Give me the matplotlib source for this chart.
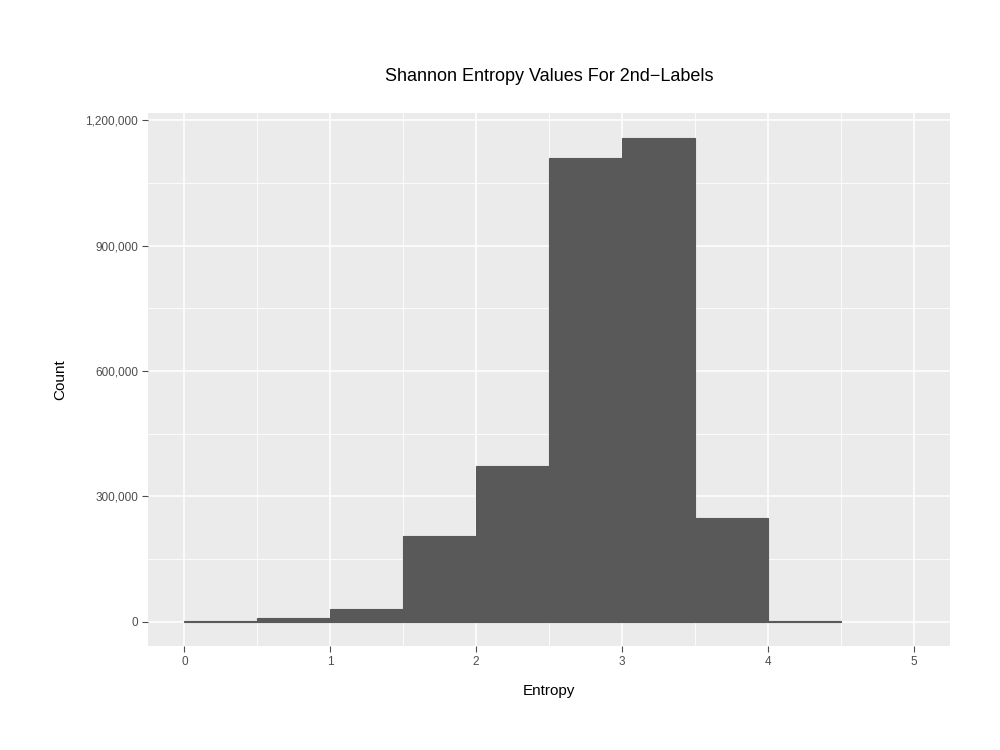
import numpy as np
import matplotlib.pyplot as plt
from matplotlib.ticker import FuncFormatter, MultipleLocator

plt.rcParams['font.family'] = ['Liberation Sans', 'DejaVu Sans']

# histogram bins (entropy, width 0.5) and counts
bin_edges = [0.0, 0.5, 1.0, 1.5, 2.0, 2.5, 3.0, 3.5, 4.0, 4.5]
counts = [1500, 9500, 31000, 206000, 374000, 1109000, 1158000, 248000, 1500]
x_ticks = [0, 1, 2, 3, 4, 5]
y_ticks = [0, 300000, 600000, 900000, 1200000]

fig = plt.figure(figsize=(10, 7.5), dpi=100)
ax = fig.add_axes([0.148, 0.1387, 0.802, 0.7107])
ax.set_facecolor('#EBEBEB')

lefts = np.array(bin_edges[:-1])
widths = np.diff(bin_edges)
ax.bar(lefts, counts, width=widths, align='edge', color='#595959',
       edgecolor='#595959', linewidth=0.8, zorder=3)

ax.set_xlim(-0.25, 5.25)
ax.set_ylim(-58000, 1218000)
ax.set_xticks(x_ticks)
ax.set_yticks(y_ticks)
ax.xaxis.set_minor_locator(MultipleLocator(0.5))
ax.yaxis.set_minor_locator(MultipleLocator(150000))
ax.yaxis.set_major_formatter(FuncFormatter(lambda v, p: f'{int(v):,}'))

ax.grid(which='major', color='white', linewidth=1.1, zorder=0)
ax.grid(which='minor', color='white', linewidth=0.6, zorder=0)
ax.set_axisbelow(True)
for s in ax.spines.values():
    s.set_visible(False)

ax.tick_params(which='major', length=4, color='#4D4D4D', labelcolor='#4D4D4D',
               labelsize=8.5, width=0.8, pad=3)
ax.tick_params(which='minor', length=0)

ax.set_xlabel('Entropy', fontsize=11, labelpad=12)
ax.set_ylabel('Count', fontsize=11, labelpad=13)
ax.set_title('Shannon Entropy Values For 2nd\u2212Labels', fontsize=13, pad=23)

fig.savefig('out.png', dpi=100)
